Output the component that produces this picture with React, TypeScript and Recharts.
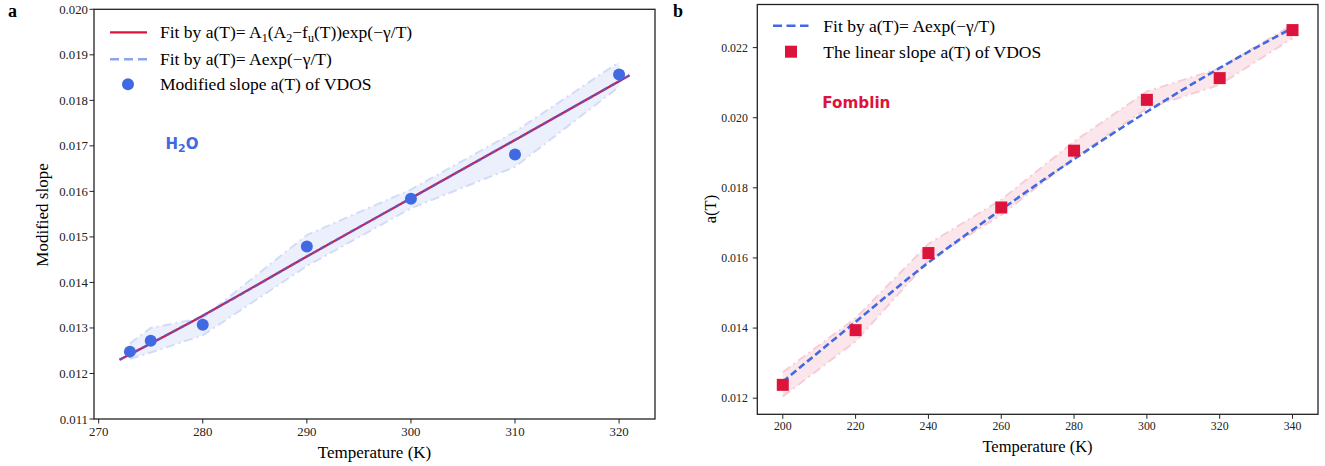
import React from 'react';
import { ComposedChart, Line, Area, Scatter, XAxis, YAxis } from 'recharts';

// panel a : H2O
const leftT = [273, 275, 280, 290, 300, 310, 320];
const leftSlope = [0.01248, 0.01272, 0.01307, 0.01479, 0.01584, 0.01681, 0.01857];
const leftBandLo = [0.01232, 0.01246, 0.01284, 0.01436, 0.01563, 0.01654, 0.0183];
const leftBandHi = [0.01266, 0.013, 0.01322, 0.01504, 0.01604, 0.01731, 0.01884];
const leftFitT = [272, 280, 290, 300, 310, 320, 321];
const leftFitFu = [0.0123, 0.01327, 0.01457, 0.01585, 0.01713, 0.01842, 0.01855];
const leftFitExp = [0.0123, 0.01327, 0.01457, 0.01585, 0.01713, 0.01842, 0.01855];
const leftXTicks = [270, 280, 290, 300, 310, 320];
const leftYTicks = [0.011, 0.012, 0.013, 0.014, 0.015, 0.016, 0.017, 0.018, 0.019, 0.02];

// panel b : Fomblin
const rightT = [200, 220, 240, 260, 280, 300, 320, 340];
const rightSlope = [0.01238, 0.01394, 0.01614, 0.01744, 0.01906, 0.02051, 0.02113, 0.0225];
const rightBandLo = [0.01205, 0.01362, 0.01592, 0.01723, 0.01885, 0.02027, 0.02094, 0.02227];
const rightBandHi = [0.01274, 0.01428, 0.0164, 0.01766, 0.01932, 0.02075, 0.02141, 0.02265];
const rightFit = [0.01247, 0.01418, 0.01587, 0.01738, 0.01882, 0.02017, 0.02142, 0.02256];
const rightXTicks = [200, 220, 240, 260, 280, 300, 320, 340];
const rightYTicks = [0.012, 0.014, 0.016, 0.018, 0.02, 0.022];

const BLUE = '#4169E1';
const RED = '#DC143C';
const SERIF = '"Liberation Serif", "Times New Roman", serif';
const SANS = '"DejaVu Sans", sans-serif';
const AXIS = '#222';

const fmt3 = (v: number) => v.toFixed(3);

const App: React.FC = () => {
  const leftPts = leftT.map((T, i) => ({ T, v: leftSlope[i] }));
  const leftBand = leftT.map((T, i) => ({ T, band: [leftBandLo[i], leftBandHi[i]] }));
  const leftFu = leftFitT.map((T, i) => ({ T, v: leftFitFu[i] }));
  const leftExp = leftFitT.map((T, i) => ({ T, v: leftFitExp[i] }));

  const rightPts = rightT.map((T, i) => ({ T, v: rightSlope[i] }));
  const rightBand = rightT.map((T, i) => ({ T, band: [rightBandLo[i], rightBandHi[i]] }));
  const rightExp = rightT.map((T, i) => ({ T, v: rightFit[i] }));

  const tickL = { fontSize: 12.8, fill: AXIS, fontFamily: SERIF };
  const tickR = { fontSize: 11.8, fill: AXIS, fontFamily: SERIF };

  return (
    <div style={{ position: 'absolute', left: 0, top: 0, width: 1325, height: 466, background: '#fff', fontFamily: SERIF }}>
      <div style={{ position: 'absolute', left: 0, top: 0 }}>
        <ComposedChart width={670} height={466} margin={{ top: 9.3, right: 15, bottom: 0, left: 0 }}>
          <XAxis dataKey="T" type="number" domain={[269.55, 323.45]} ticks={leftXTicks} allowDataOverflow
            axisLine={false} tickSize={4.5} tickMargin={3} tick={tickL} tickLine={{ stroke: AXIS }} height={47} />
          <YAxis type="number" domain={[0.011, 0.02]} ticks={leftYTicks} allowDataOverflow tickFormatter={fmt3}
            axisLine={false} tickSize={4.5} tickMargin={1.5} tick={tickL} tickLine={{ stroke: AXIS }} width={94} />
          <Area data={leftBand} dataKey="band" type="linear" fill={BLUE} fillOpacity={0.1}
            stroke="#d3dcf7" strokeWidth={2} strokeDasharray="9 4 2 4" isAnimationActive={false} />
          <Line data={leftFu} dataKey="v" type="monotone" stroke={RED} strokeWidth={2.2} dot={false} activeDot={false} isAnimationActive={false} />
          <Line data={leftExp} dataKey="v" type="monotone" stroke={BLUE} strokeOpacity={0.6} strokeWidth={2.6}
            strokeDasharray="6 2.5" dot={false} activeDot={false} isAnimationActive={false} />
          <Scatter data={leftPts} dataKey="v" isAnimationActive={false}
            shape={(p: any) => <circle cx={p.cx} cy={p.cy} r={6} fill={BLUE} />} />
        </ComposedChart>
      </div>
      <div style={{ position: 'absolute', left: 670, top: 0 }}>
        <ComposedChart width={655} height={466} margin={{ top: 4.5, right: 7, bottom: 0, left: 0 }}>
          <XAxis dataKey="T" type="number" domain={[193, 347]} ticks={rightXTicks} allowDataOverflow
            axisLine={false} tickSize={4.5} tickMargin={3} tick={tickR} tickLine={{ stroke: AXIS }} height={51.7} />
          <YAxis type="number" domain={[0.01154, 0.02323]} ticks={rightYTicks} allowDataOverflow tickFormatter={fmt3}
            axisLine={false} tickSize={4.5} tickMargin={5} tick={tickR} tickLine={{ stroke: AXIS }} width={87.3} />
          <Area data={rightBand} dataKey="band" type="linear" fill={RED} fillOpacity={0.1}
            stroke="#f6cdd6" strokeWidth={2} strokeDasharray="9 4 2 4" isAnimationActive={false} />
          <Line data={rightExp} dataKey="v" type="monotone" stroke={BLUE} strokeWidth={2.6}
            strokeDasharray="7 3.5" dot={false} activeDot={false} isAnimationActive={false} />
          <Scatter data={rightPts} dataKey="v" isAnimationActive={false}
            shape={(p: any) => <rect x={p.cx - 6} y={p.cy - 6} width={12} height={12} fill={RED} />} />
        </ComposedChart>
      </div>

      <svg width={1325} height={466} style={{ position: 'absolute', left: 0, top: 0, pointerEvents: 'none' }}>
        {/* frames */}
        <rect x={94} y={9.3} width={561} height={409.7} fill="none" stroke={AXIS} strokeWidth={1.3} />
        <rect x={757.3} y={4.5} width={560.7} height={409.8} fill="none" stroke={AXIS} strokeWidth={1.3} />

        {/* panel letters */}
        <text x={8} y={17} fontFamily={SERIF} fontWeight="bold" fontSize={18} fill="#000">a</text>
        <text x={673} y={16.5} fontFamily={SERIF} fontWeight="bold" fontSize={18} fill="#000">b</text>

        {/* axis titles */}
        <text x={374.5} y={458} textAnchor="middle" fontFamily={SERIF} fontSize={17} fill="#000">Temperature (K)</text>
        <text x={1037.5} y={452} textAnchor="middle" fontFamily={SERIF} fontSize={16.5} fill="#000">Temperature (K)</text>
        <text transform="translate(48,215) rotate(-90)" textAnchor="middle" fontFamily={SERIF} fontSize={17} fill="#000">Modified slope</text>
        <text transform="translate(716,209) rotate(-90)" textAnchor="middle" fontFamily={SERIF} fontSize={16.5} fill="#000">a(T)</text>

        {/* legend a */}
        <line x1={110} y1={32.3} x2={147} y2={32.3} stroke={RED} strokeWidth={2.2} />
        <text x={160} y={38.3} fontFamily={SERIF} fontSize={17.5} fill="#000">
          Fit by a(T)= A<tspan dy={4} fontSize={12}>1</tspan><tspan dy={-4}>(A</tspan><tspan dy={4} fontSize={12}>2</tspan><tspan dy={-4}>−f</tspan><tspan dy={4} fontSize={12}>u</tspan><tspan dy={-4}>(T))exp(−γ/T)</tspan>
        </text>
        <line x1={110} y1={59.3} x2={147} y2={59.3} stroke={BLUE} strokeOpacity={0.6} strokeWidth={2.6} strokeDasharray="9 5" />
        <text x={160} y={65.3} fontFamily={SERIF} fontSize={17.5} fill="#000">Fit by a(T)= Aexp(−γ/T)</text>
        <circle cx={128} cy={84.3} r={6} fill={BLUE} />
        <text x={160} y={90.3} fontFamily={SERIF} fontSize={17.5} fill="#000">Modified slope a(T) of VDOS</text>

        {/* legend b */}
        <line x1={773} y1={25.7} x2={808.5} y2={25.7} stroke={BLUE} strokeWidth={2.6} strokeDasharray="9 4.5" />
        <text x={823.3} y={31.7} fontFamily={SERIF} fontSize={17.5} fill="#000">Fit by a(T)= Aexp(−γ/T)</text>
        <rect x={785} y={45.7} width={12} height={12} fill={RED} />
        <text x={823.3} y={57.7} fontFamily={SERIF} fontSize={17.5} fill="#000">The linear slope a(T) of VDOS</text>

        {/* annotations */}
        <text x={165.5} y={149.3} fontFamily={SANS} fontWeight="bold" fontSize={15} fill={BLUE}>
          H<tspan dy={3} fontSize={11}>2</tspan><tspan dy={-3}>O</tspan>
        </text>
        <text x={822.3} y={108.3} fontFamily={SANS} fontWeight="bold" fontSize={15.2} fill={RED}>Fomblin</text>
      </svg>
    </div>
  );
};

export default App;
